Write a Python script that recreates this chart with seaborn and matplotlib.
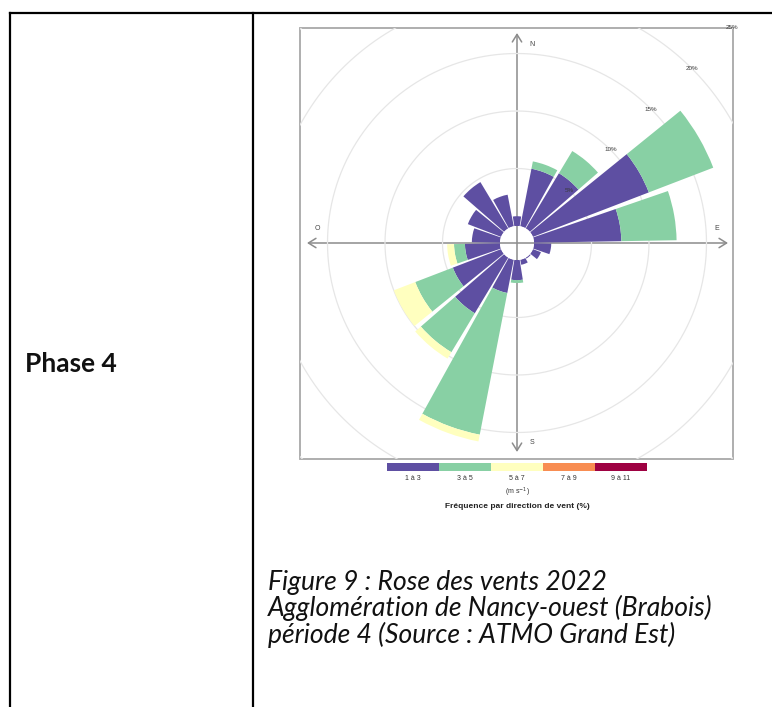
import numpy as np
import matplotlib
matplotlib.use("Agg")
import matplotlib.pyplot as plt
from matplotlib.patches import Rectangle
import seaborn as sns

# Wind directions (sector centres, degrees from north) and speed classes (m/s)
directions = [0, 20, 40, 60, 80, 100, 120, 140, 160, 180,
              200, 220, 240, 260, 280, 300, 320, 340]
speed_classes = ["1 à 3", "3 à 5", "5 à 7", "7 à 9", "9 à 11"]

# Frequency (%) of each speed class per direction sector
freq_1_3 = [0.85, 5.1, 5.6, 10.8, 7.6, 1.5, 0.75, 0.1, 0.45, 1.75,
            2.95, 5.65, 4.5, 3.05, 2.45, 3.1, 4.7, 2.8]
freq_3_5 = [0.0, 0.65, 2.25, 6.0, 4.8, 0.0, 0.0, 0.0, 0.0, 0.25,
            12.55, 3.95, 3.5, 0.95, 0.0, 0.0, 0.0, 0.0]
freq_5_7 = [0.0, 0.0, 0.0, 0.0, 0.0, 0.0, 0.0, 0.0, 0.0, 0.0,
            0.6, 0.65, 2.0, 0.6, 0.0, 0.0, 0.0, 0.0]
freq_7_9 = [0.0] * 18
freq_9_11 = [0.0] * 18

ring_levels = [5, 10, 15, 20, 25]
cardinals = ["N", "E", "S", "O"]

caption_lines = ["Figure 9 : Rose des vents 2022",
                 "Agglomération de Nancy-ouest (Brabois)",
                 "période 4 (Source : ATMO Grand Est)"]
row_label = "Phase 4"

sns.set_theme(style="white")
plt.rcParams["font.family"] = ["Liberation Sans", "DejaVu Sans"]
palette = sns.color_palette(["#5E4FA2", "#88D0A4", "#FFFFBF", "#F88D52", "#9E0142"])

W, H = 772, 707
fig = plt.figure(figsize=(W / 100, H / 100), dpi=100)
fig.patch.set_facecolor("white")

# Page layer in pixel coordinates (table, frame, axes arrows, legend, caption)
bg = fig.add_axes([0, 0, 1, 1])
bg.set_xlim(0, W)
bg.set_ylim(H, 0)
bg.axis("off")

# Table borders
tbl = dict(color="black", lw=1.6, solid_capstyle="projecting")
bg.plot([10, W + 5], [13, 13], **tbl)
bg.plot([10, 10], [13, H + 5], **tbl)
bg.plot([253, 253], [13, H + 5], **tbl)

bg.text(25, 372, row_label, family=["Lato", "DejaVu Sans"], fontweight="bold",
        fontsize=19, ha="left", va="baseline", color="#111111")

cap_y = [590, 616, 643]
for line, y in zip(caption_lines, cap_y):
    bg.text(268, y, line, family=["Lato", "DejaVu Sans"], style="italic",
            fontsize=19.1, ha="left", va="baseline", color="#111111")

# Plot frame
fx0, fy0, fx1, fy1 = 300, 28, 733, 459
frame = Rectangle((fx0, fy0), fx1 - fx0, fy1 - fy0, transform=bg.transData,
                  fill=False, edgecolor="#a8a8a8", lw=1.3, zorder=3)
bg.add_patch(frame)
clip_rect = Rectangle((fx0, fy0), fx1 - fx0, fy1 - fy0, transform=bg.transData)

# Centre of the rose and radial scale
cx, cy = 517, 243
px_per_pct = 11.5
hole = 17 / px_per_pct
rmax = 25
R = (rmax + hole) * px_per_pct

# Compass arrows
arrow = dict(arrowstyle="<->,head_length=0.45,head_width=0.28", color="#8c8c8c",
             lw=1.1, shrinkA=0, shrinkB=0)
bg.annotate("", xy=(cx, 33), xytext=(cx, 452), arrowprops=arrow, zorder=1)
bg.annotate("", xy=(728, cy), xytext=(307, cy), arrowprops=arrow, zorder=1)
card_pos = {"N": (cx + 15, 45), "S": (cx + 15, 442), "O": (317, 229), "E": (717, 229)}
for c in cardinals:
    x, y = card_pos[c]
    bg.text(x, y, c, fontsize=5, ha="center", va="center", color="#444444")

# Polar axes holding the rose
pol = fig.add_axes([(cx - R) / W, (H - cy - R) / H, 2 * R / W, 2 * R / H],
                   projection="polar")
pol.set_theta_zero_location("N")
pol.set_theta_direction(-1)
pol.patch.set_visible(False)
pol.axis("off")

full = np.linspace(0, 2 * np.pi, 721)
for lvl in ring_levels:
    ln, = pol.plot(full, np.full_like(full, lvl), color="#e6e6e6", lw=0.9, zorder=0.5)
    ln.set_clip_path(clip_rect)

theta = np.deg2rad(directions)
width = np.deg2rad(18)
series = [freq_1_3, freq_3_5, freq_5_7, freq_7_9, freq_9_11]
bottom = np.zeros(len(directions))
for vals, col in zip(series, palette):
    vals = np.asarray(vals, dtype=float)
    pol.bar(theta, vals, width=width, bottom=bottom, color=col,
            edgecolor="none", linewidth=0, zorder=2, align="center")
    bottom += vals

for lvl in ring_levels:
    t = pol.text(np.deg2rad(45), lvl, f"{lvl}%", fontsize=4.5, ha="center",
                 va="center", color="#3a3a3a", zorder=5)
    t.set_clip_path(clip_rect)

pol.set_ylim(0, rmax)
pol.set_rorigin(-hole)

# Speed-class legend
seg_w = 52
lx0 = 387
bg.bar([lx0 + i * seg_w for i in range(len(speed_classes))], 8, width=seg_w,
       bottom=463, align="edge", color=palette, edgecolor="none", linewidth=0)
for i, lab in enumerate(speed_classes):
    bg.text(lx0 + (i + 0.5) * seg_w, 479, lab, fontsize=5, ha="center",
            va="center", color="#333333")
bg.text(cx, 492, r"(m s$^{-1}$)", fontsize=5, ha="center", va="center", color="#333333")
bg.text(cx, 506, "Fréquence par direction de vent (%)", fontsize=6,
        fontweight="bold", ha="center", va="center", color="#222222")

fig.savefig("out.png", dpi=100)
